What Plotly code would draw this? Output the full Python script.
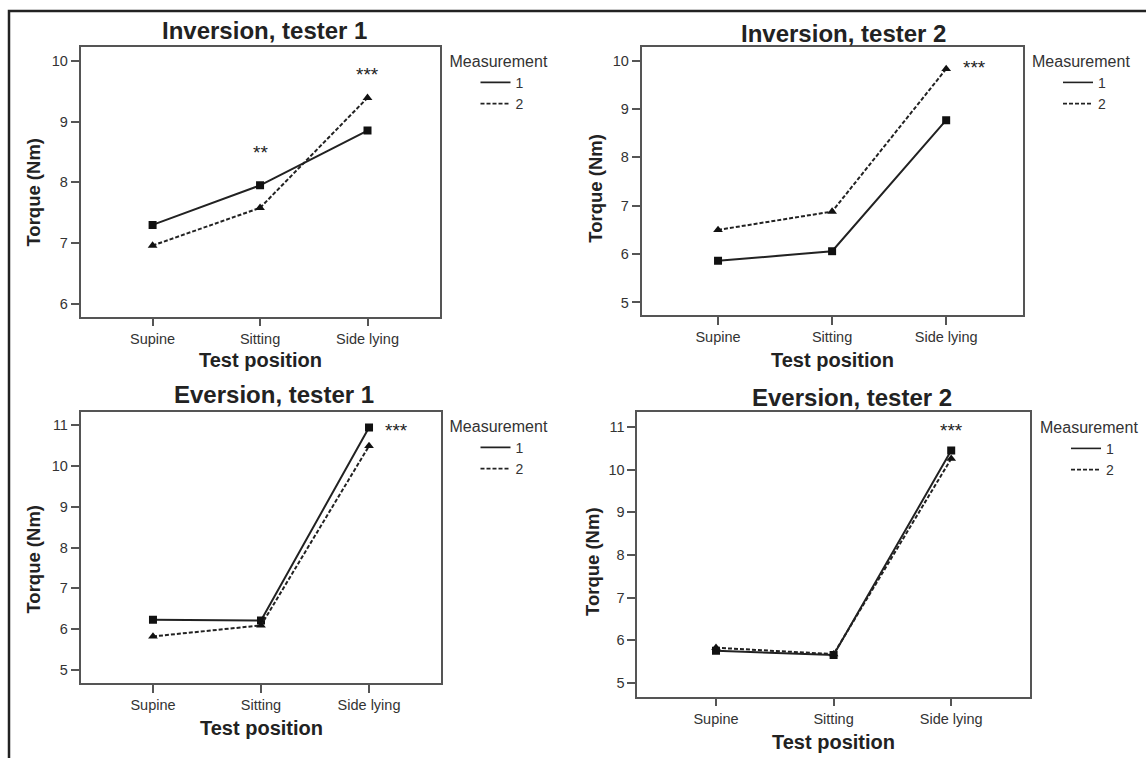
import plotly.graph_objects as go

W, H = 1146, 758

positions = ["Supine", "Sitting", "Side lying"]
measurements = ["1", "2"]

inv_t1_m1 = [7.30, 7.95, 8.85]
inv_t1_m2 = [6.96, 7.58, 9.39]
inv_t2_m1 = [5.86, 6.06, 8.77]
inv_t2_m2 = [6.50, 6.88, 9.83]
eve_t1_m1 = [6.23, 6.21, 10.94]
eve_t1_m2 = [5.82, 6.09, 10.49]
eve_t2_m1 = [5.75, 5.65, 10.45]
eve_t2_m2 = [5.82, 5.67, 10.26]

titles = ["Inversion, tester 1", "Inversion, tester 2", "Eversion, tester 1", "Eversion, tester 2"]
y_ticks_inv1 = [6, 7, 8, 9, 10]
y_ticks_inv2 = [5, 6, 7, 8, 9, 10]
y_ticks_eve = [5, 6, 7, 8, 9, 10, 11]

# significance markers: (x position index, y value, text)
sig_inv1 = [(1.0, 8.58, "**"), (2.0, 9.85, "***")]
sig_inv2 = [(2.25, 9.96, "***")]
sig_eve1 = [(2.25, 10.98, "***")]
sig_eve2 = [(2.0, 11.05, "***")]

panels = [
    dict(m1=inv_t1_m1, m2=inv_t1_m2, ticks=y_ticks_inv1, yr=[5.79, 10.23], sig=sig_inv1,
         box=(80.6, 439.5, 46.7, 316.7), title_xy=(264.5, 30), ytitle_xy=(32.6, 192), xtitle_y=360,
         leg=(447.5, 46)),
    dict(m1=inv_t2_m1, m2=inv_t2_m2, ticks=y_ticks_inv2, yr=[4.74, 10.29], sig=sig_inv2,
         box=(641.6, 1022.6, 46.7, 315.0), title_xy=(843.7, 33), ytitle_xy=(595.7, 188), xtitle_y=360,
         leg=(1030, 46)),
    dict(m1=eve_t1_m1, m2=eve_t1_m2, ticks=y_ticks_eve, yr=[4.67, 11.33], sig=sig_eve1,
         box=(80.6, 441.4, 411.7, 683.3), title_xy=(273.8, 394), ytitle_xy=(32.6, 559), xtitle_y=728,
         leg=(447.5, 411)),
    dict(m1=eve_t2_m1, m2=eve_t2_m2, ticks=y_ticks_eve, yr=[4.67, 11.35], sig=sig_eve2,
         box=(637.2, 1030.0, 412.3, 696.7), title_xy=(851.8, 397), ytitle_xy=(592, 562), xtitle_y=742,
         leg=(1038, 412)),
]

FONT = "Liberation Sans, Arial, Helvetica, sans-serif"
DARK = "#222222"
AX = "#555555"

fig = go.Figure()
annotations = []
layout_upd = {}

for i, p in enumerate(panels):
    n = "" if i == 0 else str(i + 1)
    xa, ya = "x" + n, "y" + n
    legname = "legend" + n
    x0, x1, y0, y1 = p["box"]
    # data traces
    fig.add_trace(go.Scatter(x=positions, y=p["m1"], mode="lines+markers", xaxis=xa, yaxis=ya,
                             line=dict(color=DARK, width=2),
                             marker=dict(symbol="square", size=8, color="#111111"),
                             showlegend=False, name=measurements[0]))
    fig.add_trace(go.Scatter(x=positions, y=p["m2"], mode="lines+markers", xaxis=xa, yaxis=ya,
                             line=dict(color=DARK, width=2, dash="4px,2px"),
                             marker=dict(symbol="triangle-up", size=8.5, color="#111111"),
                             showlegend=False, name=measurements[1]))
    # legend entries (lines only)
    for m, dash in zip(measurements, ["solid", "4px,2px"]):
        fig.add_trace(go.Scatter(x=[None], y=[None], mode="lines", xaxis=xa, yaxis=ya,
                                 line=dict(color=DARK, width=1.6, dash=dash),
                                 name=m, legend=legname, showlegend=True))
    layout_upd["xaxis" + n] = dict(
        domain=[x0 / W, x1 / W], anchor=ya, type="category", range=[-0.67, 2.67],
        showline=True, mirror=True, linecolor=AX, linewidth=1.5,
        ticks="outside", ticklen=8, tickwidth=1.5, tickcolor=AX,
        showgrid=False, zeroline=False,
        tickfont=dict(family=FONT, size=14.5, color="#333333"))
    layout_upd["yaxis" + n] = dict(
        domain=[1 - y1 / H, 1 - y0 / H], anchor=xa, range=p["yr"],
        tickvals=p["ticks"], showline=True, mirror=True, linecolor=AX, linewidth=1.5,
        ticks="outside", ticklen=8, tickwidth=1.5, tickcolor=AX,
        showgrid=False, zeroline=False,
        tickfont=dict(family=FONT, size=14.5, color="#333333"))
    layout_upd[legname] = dict(
        x=p["leg"][0] / W, y=1 - p["leg"][1] / H, xanchor="left", yanchor="top",
        bgcolor="rgba(0,0,0,0)", borderwidth=0, indentation=28,
        title=dict(text="Measurement", font=dict(family=FONT, size=16, color="#333333")),
        font=dict(family=FONT, size=14, color="#333333"), itemwidth=30, tracegroupgap=0)
    # panel title
    annotations.append(dict(text="<b>%s</b>" % titles[i], xref="paper", yref="paper",
                            x=p["title_xy"][0] / W, y=1 - p["title_xy"][1] / H,
                            xanchor="center", yanchor="middle", showarrow=False,
                            font=dict(family=FONT, size=24, color=DARK)))
    annotations.append(dict(text="<b>Torque (Nm)</b>", xref="paper", yref="paper",
                            x=p["ytitle_xy"][0] / W, y=1 - p["ytitle_xy"][1] / H, textangle=-90,
                            xanchor="center", yanchor="middle", showarrow=False,
                            font=dict(family=FONT, size=18.5, color=DARK)))
    annotations.append(dict(text="<b>Test position</b>", xref="paper", yref="paper",
                            x=((x0 + x1) / 2) / W, y=1 - p["xtitle_y"] / H,
                            xanchor="center", yanchor="middle", showarrow=False,
                            font=dict(family=FONT, size=20, color=DARK)))
    for sx, sy, st in p["sig"]:
        annotations.append(dict(text=st, xref=xa, yref=ya, x=sx, y=sy, showarrow=False,
                                xanchor="center", yanchor="middle", yshift=-5,
                                font=dict(family=FONT, size=19, color=DARK)))

fig.update_layout(**layout_upd)
fig.update_layout(
    width=W, height=H, margin=dict(l=0, r=0, t=0, b=0),
    paper_bgcolor="white", plot_bgcolor="white",
    annotations=annotations,
    shapes=[dict(type="rect", xref="paper", yref="paper", x0=9 / W, x1=1.05, y0=-0.05, y1=1 - 11 / H,
                 line=dict(color=DARK, width=2.5), fillcolor="rgba(0,0,0,0)", layer="below")],
)

fig.write_html("out.html")
